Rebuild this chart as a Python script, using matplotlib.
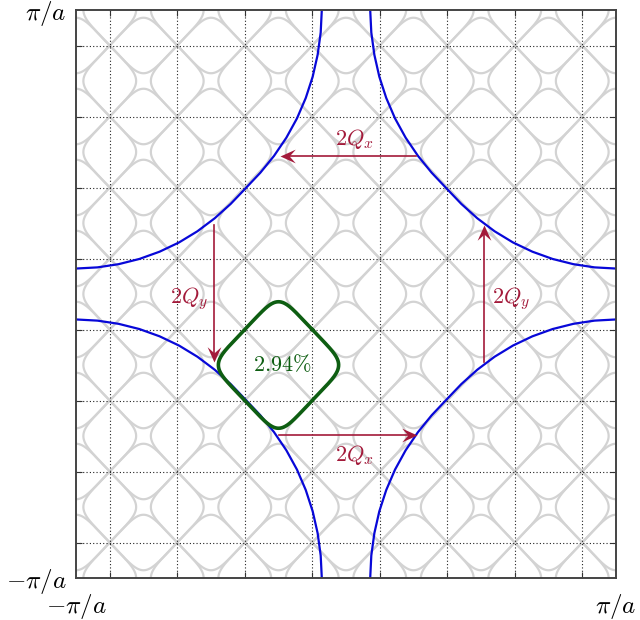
import numpy as np
import matplotlib
matplotlib.use('Agg')
import matplotlib.pyplot as plt
from matplotlib.markers import MarkerStyle
from matplotlib.path import Path
from matplotlib.transforms import Affine2D

plt.rcParams['mathtext.fontset'] = 'cm'
plt.rcParams['font.family'] = ['DejaVu Serif', 'DejaVu Sans']

PI = np.pi

# ---- data ----
# Fermi-surface arc around a zone corner, read as (angle from corner in deg, radius in 1/a)
fs_angle = [0, 5, 10, 15, 20, 25, 30, 35, 40, 45, 50, 55, 60, 65, 70, 75, 80, 85, 90]
fs_radius = [2.860, 2.858, 2.855, 2.851, 2.845, 2.837, 2.826, 2.813, 2.800, 2.790,
             2.800, 2.813, 2.826, 2.837, 2.845, 2.851, 2.855, 2.858, 2.860]
fs_corners = [(-1, -1), (-1, 1), (1, -1), (1, 1)]

# centres of the repeated (gray) pockets
gray_cx = [k * PI / 4 for k in range(-4, 5)]
gray_cy = [k * PI / 4 for k in range(-4, 5)]

# green pocket: centre, half diagonal, label
pocket_center = (-PI / 4, -PI / 4)
pocket_half_diag = PI / 4
pocket_label = r'$2.94\%$'
pocket_label_pos = (-0.74, -0.785)

# nesting arrows: (x_start, y_start, x_tip, y_tip)
arrows = [
    (0.815, 1.527, -0.768, 1.527),
    (-0.776, -1.555, 0.823, -1.555),
    (-1.536, 0.763, -1.536, -0.749),
    (1.606, -0.749, 1.606, 0.763),
]
arrow_labels = [r'$2Q_x$', r'$2Q_x$', r'$2Q_y$', r'$2Q_y$']
label_pos = [(0.093, 1.715), (0.093, -1.781), (-1.827, -0.05), (1.920, -0.05)]

grid_pos = [(2 * k + 1) * PI / 8 for k in range(-4, 4)]
tick_pos = [-PI, PI]
tick_labels_x = [r'$-\pi/a$', r'$\pi/a$']
tick_labels_y = [r'$-\pi/a$', r'$\pi/a$']

# ---- colours / styles ----
C_GRAY = '#d3d3d3'
C_BLUE = '#0808d8'
C_GREEN = '#0e5e12'
C_RED = '#a31a3a'
P_SHAPE = 6.0


def pocket(cx, cy, half_diag, p=P_SHAPE, n=400):
    t = np.linspace(0, 2 * PI, n)
    h = half_diag / np.sqrt(2)
    u = h * np.sign(np.cos(t)) * np.abs(np.cos(t)) ** (2 / p)
    v = h * np.sign(np.sin(t)) * np.abs(np.sin(t)) ** (2 / p)
    return cx + (u - v) / np.sqrt(2), cy + (u + v) / np.sqrt(2)


fig = plt.figure(figsize=(6.4, 6.2), dpi=100)
ax = fig.add_axes([76 / 640, 42 / 620, 540 / 640, 568 / 620])
ax.set_xlim(-PI, PI)
ax.set_ylim(-PI, PI)

# gray repeated pockets
for cx in gray_cx:
    for cy in gray_cy:
        x, y = pocket(cx, cy, pocket_half_diag)
        ax.plot(x, y, color=C_GRAY, lw=1.6, zorder=1)

# Fermi surface arcs
ang = np.radians(fs_angle)
rad = np.array(fs_radius)
for sx, sy in fs_corners:
    ax.plot(sx * PI - sx * rad * np.cos(ang), sy * PI - sy * rad * np.sin(ang),
            color=C_BLUE, lw=1.6, zorder=3, solid_joinstyle='round')

# green pocket
gx, gy = pocket(pocket_center[0], pocket_center[1], pocket_half_diag)
ax.plot(gx, gy, color=C_GREEN, lw=2.6, zorder=4)
ax.text(pocket_label_pos[0], pocket_label_pos[1], pocket_label, color=C_GREEN,
        fontsize=16, ha='center', va='center', zorder=6)

# arrows
stealth = Path([(0, 0), (-1, 0.45), (-0.6, 0), (-1, -0.45), (0, 0)],
               [Path.MOVETO, Path.LINETO, Path.LINETO, Path.LINETO, Path.CLOSEPOLY])
for (x0, y0, x1, y1), lab, (lx, ly) in zip(arrows, arrow_labels, label_pos):
    a = np.degrees(np.arctan2(y1 - y0, x1 - x0))
    d = np.hypot(x1 - x0, y1 - y0)
    ux, uy = (x1 - x0) / d, (y1 - y0) / d
    ax.plot([x0, x1 - 0.08 * ux], [y0, y1 - 0.08 * uy], color=C_RED, lw=1.2, zorder=5)
    m = MarkerStyle(stealth, transform=Affine2D().rotate_deg(a))
    ax.plot([x1], [y1], marker=m, markersize=22, color=C_RED, markeredgewidth=0, zorder=5)
    ax.text(lx, ly, lab, color=C_RED, fontsize=16, ha='center', va='center', zorder=6)

# grid / ticks
ax.set_xticks(tick_pos, tick_labels_x)
ax.set_yticks(tick_pos, tick_labels_y)
ax.set_xticks(grid_pos, minor=True)
ax.set_yticks(grid_pos, minor=True)
ax.grid(False)
ax.grid(which='minor', color='#222222', lw=0.8, ls=(0, (1, 2)), zorder=2)
ax.set_axisbelow(False)
ax.tick_params(which='major', length=0, labelsize=18, pad=7)
ax.tick_params(axis='x', which='major', pad=10)
ax.tick_params(which='minor', direction='in', length=4, width=0.8, color='#333333',
               top=True, right=True)
for s in ax.spines.values():
    s.set_color('#444444')
    s.set_linewidth(1.4)
    s.set_zorder(7)

fig.savefig('out.png', dpi=100)
